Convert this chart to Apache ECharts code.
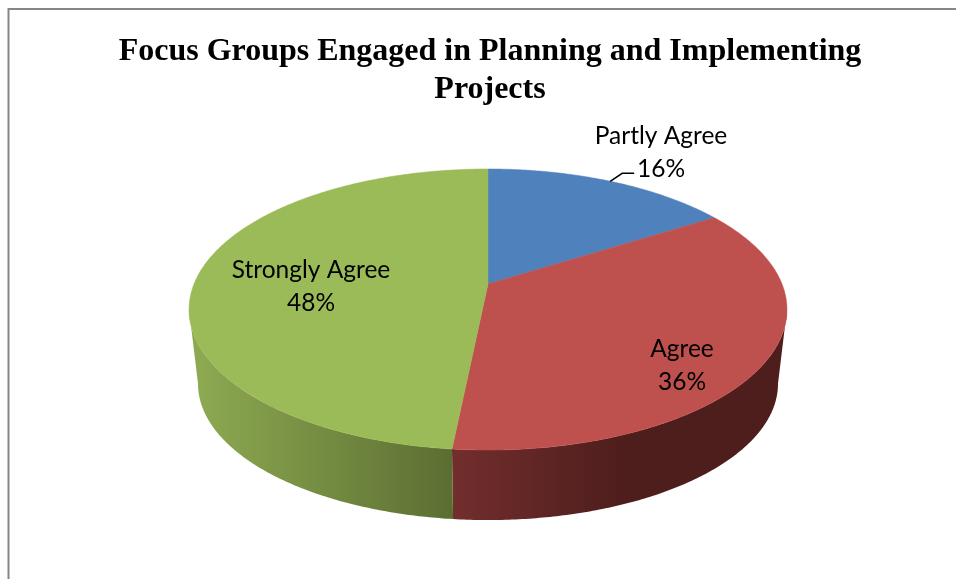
<!DOCTYPE html>
<html><head><meta charset="utf-8">
<style>html,body{margin:0;padding:0;background:#fff}#c{width:956px;height:579px}</style>
<script src="https://cdn.jsdelivr.net/npm/echarts@6/dist/echarts.min.js"></script>
</head><body><div id="c"></div>
<script>
const categories = ['Partly Agree', 'Agree', 'Strongly Agree'];
const values = [16, 35.6, 48.4];
const colors = ['#4F81BD', '#BE504D', '#9BBB59'];
const titleText = 'Focus Groups Engaged in Planning and Implementing\nProjects';

// projection of the tilted disc
const cx = 488, apexY = 284, R = 294, K = 135.9, persp = 0.1815;
const bottomScale = 0.97, bottomApexY = 359;
const labelPos = [[661, 136], [682, 349], [311, 270]];
const labelFont = 'Lato, "Open Sans", sans-serif';

const total = values.reduce((a, b) => a + b, 0);
const starts = []; values.reduce((a, v, i) => (starts[i] = a, a + v), 0);
const angle = p => p / total * 2 * Math.PI;
function rim(theta, bottom) {
  const u = Math.sin(theta), v = Math.cos(theta), w = 1 + persp * v;
  const s = bottom ? bottomScale : 1, y0 = bottom ? bottomApexY : apexY;
  return [cx + s * R * u / w, y0 - s * K * v / w];
}
function arc(a0, a1, bottom) {
  const n = Math.max(2, Math.ceil(Math.abs(a1 - a0) / 0.01)), pts = [];
  for (let i = 0; i <= n; i++) pts.push(rim(a0 + (a1 - a0) * i / n, bottom));
  return pts;
}
const G = echarts.graphic.LinearGradient;
const sideFill = [
  '#4F6A91',
  new G(452, 0, 620, 0, [{offset: 0, color: '#722E2D'}, {offset: 1, color: '#4E1E1D'}], true),
  new G(198, 0, 452, 0, [{offset: 0, color: '#8DA951'}, {offset: 1, color: '#5B6E32'}], true)
];
// the visible wall runs between the two silhouette tangents of the disc
const FRONT0 = Math.acos(-persp), FRONT1 = 2 * Math.PI - FRONT0;

function renderSide(params, api) {
  const i = params.dataIndex;
  const a0 = Math.max(angle(starts[i]), FRONT0), a1 = Math.min(angle(starts[i] + api.value(0)), FRONT1);
  if (a1 <= a0) return {type: 'group', children: []};
  const points = arc(a0, a1, false).concat(arc(a1, a0, true));
  return {type: 'polygon', shape: {points}, style: {fill: sideFill[i], stroke: null}};
}
function renderTop(params, api) {
  const i = params.dataIndex;
  const a0 = angle(starts[i]), a1 = angle(starts[i] + api.value(0));
  const points = [[cx, apexY]].concat(arc(a0, a1, false));
  return {type: 'polygon', shape: {points}, style: {fill: colors[i], stroke: colors[i], lineWidth: 0.5}};
}
function renderLabel(params, api) {
  const i = params.dataIndex;
  const pct = Math.round(api.value(0) / total * 100) + '%';
  const [x, y] = labelPos[i];
  const font = '24.5px ' + labelFont;
  const children = [
    {type: 'text', style: {x, y, text: categories[i], fill: '#000', font, align: 'center', verticalAlign: 'middle'}},
    {type: 'text', style: {x, y: y + 33, text: pct, fill: '#000', font, align: 'center', verticalAlign: 'middle'}}
  ];
  if (i === 0) {
    const p = rim(angle(starts[i] + api.value(0) / 2), false);
    children.push({type: 'polyline', shape: {points: [p, [p[0] + 12, p[1] - 8], [p[0] + 24, p[1] - 8]]},
      style: {stroke: '#000', lineWidth: 1.5, fill: null}});
  }
  return {type: 'group', children};
}
const data = values.map((v, i) => ({name: categories[i], value: [v]}));
const chart = echarts.init(document.getElementById('c'), null, {renderer: 'canvas'});
chart.setOption({
  backgroundColor: '#fff',
  animation: false,
  title: {
    text: titleText, left: 485, top: 28, textAlign: 'center',
    textStyle: {fontFamily: '"Liberation Serif", serif', fontWeight: 'bold', fontSize: 32, lineHeight: 38, color: '#000'}
  },
  graphic: [{type: 'polyline', silent: true, shape: {points: [[956, 9], [8.5, 9], [8.5, 579]]},
    style: {stroke: '#868686', lineWidth: 2, fill: null}}],
  series: [
    {type: 'custom', coordinateSystem: 'none', z: 2, data, renderItem: renderSide, silent: true},
    {type: 'custom', coordinateSystem: 'none', z: 3, data, renderItem: renderTop, silent: true},
    {type: 'custom', coordinateSystem: 'none', z: 4, data, renderItem: renderLabel, silent: true}
  ]
});
</script></body></html>
